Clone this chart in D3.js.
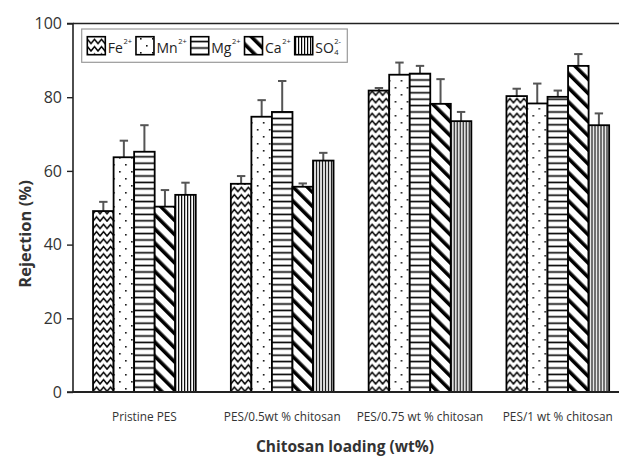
<!DOCTYPE html>
<html>
<head>
<meta charset="utf-8">
<script src="https://cdn.jsdelivr.net/npm/d3@7"></script>
<style>
  html, body { margin: 0; padding: 0; background: #fff; }
  svg { display: block; }
</style>
</head>
<body>
<svg id="chart" width="619" height="461"></svg>
<script>
// Membrane formulations (x categories)
const categories = ["Pristine PES", "PES/0.5wt % chitosan", "PES/0.75 wt % chitosan", "PES/1 wt % chitosan"];
// Ions (series)
const ions = ["Fe", "Mn", "Mg", "Ca", "SO4"];
// Rejection (%) per ion, one value per category
const fe  = [49.1, 56.5, 81.8, 80.3];
const mn  = [63.7, 74.7, 86.1, 78.3];
const mg  = [65.2, 76.0, 86.4, 80.1];
const ca  = [50.3, 55.7, 78.2, 88.5];
const so4 = [53.5, 62.8, 73.5, 72.4];
// Standard deviation (upper error bars)
const feErr  = [2.5, 2.1, 0.7, 2.0];
const mnErr  = [4.5, 4.5, 3.3, 5.4];
const mgErr  = [7.2, 8.4, 2.1, 1.7];
const caErr  = [4.5, 0.9, 6.7, 3.2];
const so4Err = [3.3, 2.1, 2.5, 3.2];
// Axis ticks
const yTicks = [0, 20, 40, 60, 80, 100];

const values = { Fe: fe, Mn: mn, Mg: mg, Ca: ca, SO4: so4 };
const errors = { Fe: feErr, Mn: mnErr, Mg: mgErr, Ca: caErr, SO4: so4Err };
const legendLabel = {
  Fe:  { base: "Fe", sup: "2+" },
  Mn:  { base: "Mn", sup: "2+" },
  Mg:  { base: "Mg", sup: "2+" },
  Ca:  { base: "Ca", sup: "2+" },
  SO4: { base: "SO", sub: "4", sup: "2-" }
};

const W = 619;
const svg = d3.select("#chart");
const axisLeftX = 73, plotTop = 23.5, plotBottom = 392;

const y = d3.scaleLinear().domain([0, 100]).range([plotBottom, plotTop]);
const x0 = d3.scaleBand().domain(categories).range([75.5, 626.7])
  .paddingInner(0.2547).paddingOuter(0.1274);
const x1 = d3.scaleBand().domain(ions).range([0, x0.bandwidth()]);

// ---- fill patterns ----
const defs = svg.append("defs");
function pattern(id, w, h) {
  return defs.append("pattern").attr("id", id)
    .attr("patternUnits", "userSpaceOnUse").attr("width", w).attr("height", h);
}
// zigzag
let p = pattern("pat-Fe", 7, 7.4);
p.append("rect").attr("width", 7).attr("height", 7.4).attr("fill", "#fff");
p.append("path").attr("d", "M-1.75,4.8 L0,6.6 L3.5,2.4 L7,6.6 L8.75,4.8")
  .attr("fill", "none").attr("stroke", "#000").attr("stroke-width", 1.5);
// sparse dots
p = pattern("pat-Mn", 12, 14);
p.append("rect").attr("width", 12).attr("height", 14).attr("fill", "#fff");
p.append("rect").attr("x", 2).attr("y", 3).attr("width", 1.6).attr("height", 1.6).attr("fill", "#111");
p.append("rect").attr("x", 8).attr("y", 10).attr("width", 1.6).attr("height", 1.6).attr("fill", "#111");
// horizontal lines
p = pattern("pat-Mg", 8, 6.4);
p.append("rect").attr("width", 8).attr("height", 6.4).attr("fill", "#fff");
p.append("rect").attr("x", 0).attr("y", 2.4).attr("width", 8).attr("height", 1.6).attr("fill", "#000");
// wide diagonal stripes (top-left to bottom-right)
p = pattern("pat-Ca", 10, 10).attr("patternTransform", "rotate(-45)");
p.append("rect").attr("width", 10).attr("height", 10).attr("fill", "#fff");
p.append("rect").attr("x", 0).attr("y", 0).attr("width", 3.6).attr("height", 10).attr("fill", "#000");
// dense vertical lines
p = pattern("pat-SO4", 3, 8);
p.append("rect").attr("width", 3).attr("height", 8).attr("fill", "#fff");
p.append("rect").attr("x", 1).attr("y", 0).attr("width", 1.2).attr("height", 8).attr("fill", "#000");

// ---- frame ----
svg.append("line").attr("x1", axisLeftX).attr("x2", W).attr("y1", plotTop).attr("y2", plotTop)
  .attr("stroke", "#222").attr("stroke-width", 1.6);

// ---- bars ----
const groups = svg.append("g").selectAll("g").data(categories).join("g")
  .attr("transform", d => `translate(${x0(d)},0)`);

groups.each(function(cat, ci) {
  const g = d3.select(this);
  ions.forEach(ion => {
    const v = values[ion][ci], e = errors[ion][ci];
    const bx = x1(ion), bw = x1.bandwidth();
    // error bar (upper only)
    g.append("line").attr("x1", bx + bw / 2).attr("x2", bx + bw / 2)
      .attr("y1", y(v)).attr("y2", y(v + e))
      .attr("stroke", "#555").attr("stroke-width", 2);
    g.append("line").attr("x1", bx + bw / 2 - 4.2).attr("x2", bx + bw / 2 + 4.2)
      .attr("y1", y(v + e)).attr("y2", y(v + e))
      .attr("stroke", "#555").attr("stroke-width", 2);
    g.append("rect").attr("x", bx).attr("y", y(v))
      .attr("width", bw).attr("height", y(0) - y(v))
      .attr("fill", `url(#pat-${ion})`)
      .attr("stroke", "#000").attr("stroke-width", 1.8);
  });
});

// ---- axes ----
const yAxis = svg.append("g").attr("transform", `translate(${axisLeftX},0)`)
  .call(d3.axisLeft(y).tickValues(yTicks).tickSize(6).tickPadding(5));
yAxis.select(".domain").attr("stroke", "#222").attr("stroke-width", 1.6)
  .attr("d", `M-6,${plotTop}H0V${plotBottom}H-6`);
yAxis.selectAll(".tick line").attr("stroke", "#222").attr("stroke-width", 1.4);
yAxis.selectAll(".tick text").attr("font-family", "'Open Sans', sans-serif")
  .attr("font-size", 16).attr("fill", "#333");

const xAxis = svg.append("g").attr("transform", `translate(0,${plotBottom})`)
  .call(d3.axisBottom(x0).tickSize(0).tickPadding(21));
xAxis.select(".domain").attr("stroke", "#222").attr("stroke-width", 1.8)
  .attr("d", `M${axisLeftX},0H${W}`);
xAxis.selectAll(".tick text").attr("font-family", "'Open Sans', sans-serif")
  .attr("font-size", 11.8).attr("fill", "#333");

// ---- axis titles ----
svg.append("text").attr("x", 345).attr("y", 452).attr("text-anchor", "middle")
  .attr("font-family", "'Open Sans', sans-serif").attr("font-weight", "bold")
  .attr("font-size", 15.5).attr("fill", "#333").text("Chitosan loading (wt%)");
svg.append("text").attr("transform", "translate(31,234) rotate(-90)").attr("text-anchor", "middle")
  .attr("font-family", "'Open Sans', sans-serif").attr("font-weight", "bold")
  .attr("font-size", 16.5).attr("fill", "#333").text("Rejection (%)");

// ---- legend ----
const legend = svg.append("g");
legend.append("rect").attr("x", 81.7).attr("y", 29).attr("width", 265.6).attr("height", 33.3)
  .attr("fill", "#fff").attr("stroke", "#9a9a9a").attr("stroke-width", 1.2);
let lx = 87.3;
const sw = 18, swY = 36.7;
ions.forEach(ion => {
  legend.append("rect").attr("x", lx).attr("y", swY).attr("width", sw).attr("height", sw)
    .attr("fill", `url(#pat-${ion})`).attr("stroke", "#000").attr("stroke-width", 1.6);
  const lab = legendLabel[ion];
  const tx = lx + sw + 2.5;
  const t = legend.append("text").attr("x", tx).attr("y", 52.5)
    .attr("font-family", "'Open Sans', sans-serif").attr("font-size", 14).attr("fill", "#222")
    .text(lab.base);
  let end = tx + t.node().getComputedTextLength();
  let extra = 0;
  if (lab.sub) {
    const s = legend.append("text").attr("x", end + 0.5).attr("y", 55)
      .attr("font-family", "'Open Sans', sans-serif").attr("font-size", 7.5).attr("fill", "#222")
      .text(lab.sub);
    extra = s.node().getComputedTextLength();
  }
  const sp = legend.append("text").attr("x", end + 0.5).attr("y", 44)
    .attr("font-family", "'Open Sans', sans-serif").attr("font-size", 7.5).attr("fill", "#222")
    .text(lab.sup);
  end += 0.5 + Math.max(extra, sp.node().getComputedTextLength());
  lx = end + 4;
});
</script>
</body>
</html>
